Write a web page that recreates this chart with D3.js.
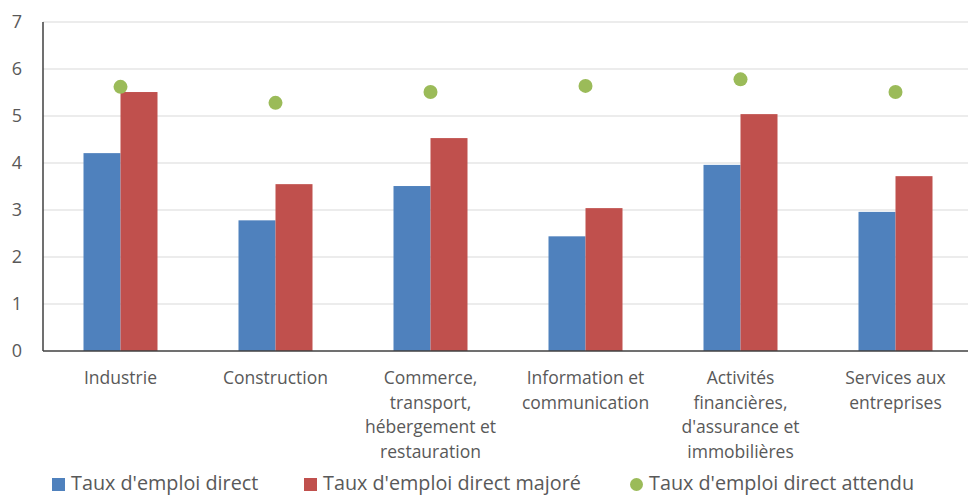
<!DOCTYPE html>
<html>
<head>
<meta charset="utf-8">
<script src="https://cdn.jsdelivr.net/npm/d3@7"></script>
<style>
  html, body { margin: 0; padding: 0; background: #fff; }
  svg { display: block; font-family: "Open Sans", Lato, sans-serif; }
</style>
</head>
<body>
<svg id="chart" width="968" height="497"></svg>
<script>
// Sector labels (each entry is the list of wrapped lines)
const categories = [
  ["Industrie"],
  ["Construction"],
  ["Commerce,", "transport,", "hébergement et", "restauration"],
  ["Information et", "communication"],
  ["Activités", "financières,", "d'assurance et", "immobilières"],
  ["Services aux", "entreprises"]
];
const seriesNames = ["Taux d'emploi direct", "Taux d'emploi direct majoré", "Taux d'emploi direct attendu"];
const direct   = [4.21, 2.78, 3.51, 2.44, 3.96, 2.96];
const majore   = [5.51, 3.55, 4.53, 3.04, 5.04, 3.72];
const attendu  = [5.62, 5.28, 5.51, 5.64, 5.78, 5.51];
const yTicks   = [0, 1, 2, 3, 4, 5, 6, 7];

const colors = ["#4F81BD", "#C0504D", "#9BBB59"];
const textColor = "#595959";

const svg = d3.select("#chart");
const margin = { left: 43, right: -5, top: 22, bottom: 146 };
const W = 968, H = 497;
const x0 = margin.left, x1 = W - margin.right;
const yTop = margin.top, yBottom = H - margin.bottom;

const x = d3.scaleBand().domain(d3.range(categories.length)).range([x0, x1]).paddingInner(0).paddingOuter(0);
const y = d3.scaleLinear().domain([0, 7]).range([yBottom, yTop]);

// Gridlines
svg.append("g").selectAll("line").data(yTicks.filter(d => d > 0)).join("line")
  .attr("x1", x0).attr("x2", W)
  .attr("y1", d => y(d)).attr("y2", d => y(d))
  .attr("stroke", "#d9d9d9").attr("stroke-width", 1.2);

// Y axis tick labels
svg.append("g").selectAll("text").data(yTicks).join("text")
  .attr("x", 22).attr("y", d => y(d)).attr("dy", "0.35em")
  .attr("text-anchor", "end")
  .attr("fill", textColor).attr("font-size", 18)
  .text(d => d);

// Bars
const barW = 37;
const bars = svg.append("g");
[direct, majore].forEach((vals, s) => {
  bars.selectAll(null).data(vals).join("rect")
    .attr("x", (d, i) => x(i) + x.bandwidth() / 2 - barW + s * barW)
    .attr("width", barW)
    .attr("y", d => y(d))
    .attr("height", d => y(0) - y(d))
    .attr("fill", colors[s]);
});

// Expected-rate markers
svg.append("g").selectAll("circle").data(attendu).join("circle")
  .attr("cx", (d, i) => x(i) + x.bandwidth() / 2)
  .attr("cy", d => y(d))
  .attr("r", 7)
  .attr("fill", colors[2]);

// Axis lines
svg.append("line").attr("x1", x0).attr("x2", W).attr("y1", y(0)).attr("y2", y(0))
  .attr("stroke", "#404040").attr("stroke-width", 1.5);
svg.append("line").attr("x1", x0).attr("x2", x0).attr("y1", yTop).attr("y2", y(0))
  .attr("stroke", "#404040").attr("stroke-width", 1.5);

// Category labels
const catG = svg.append("g");
categories.forEach((lines, i) => {
  const t = catG.append("text")
    .attr("x", x(i) + x.bandwidth() / 2)
    .attr("y", 384)
    .attr("text-anchor", "middle")
    .attr("fill", textColor).attr("font-size", 17.5);
  lines.forEach((ln, k) => {
    t.append("tspan").attr("x", x(i) + x.bandwidth() / 2).attr("dy", k === 0 ? 0 : 24.7).text(ln);
  });
});

// Legend
const legendX = [52, 304, 630];
const lg = svg.append("g");
seriesNames.forEach((name, s) => {
  if (s < 2) {
    lg.append("rect").attr("x", legendX[s]).attr("y", 478).attr("width", 13).attr("height", 13).attr("fill", colors[s]);
  } else {
    lg.append("circle").attr("cx", legendX[s] + 6.5).attr("cy", 484.5).attr("r", 6.5).attr("fill", colors[s]);
  }
  lg.append("text").attr("x", legendX[s] + 19).attr("y", 490)
    .attr("fill", textColor).attr("font-size", 19.8)
    .text(name);
});
</script>
</body>
</html>
